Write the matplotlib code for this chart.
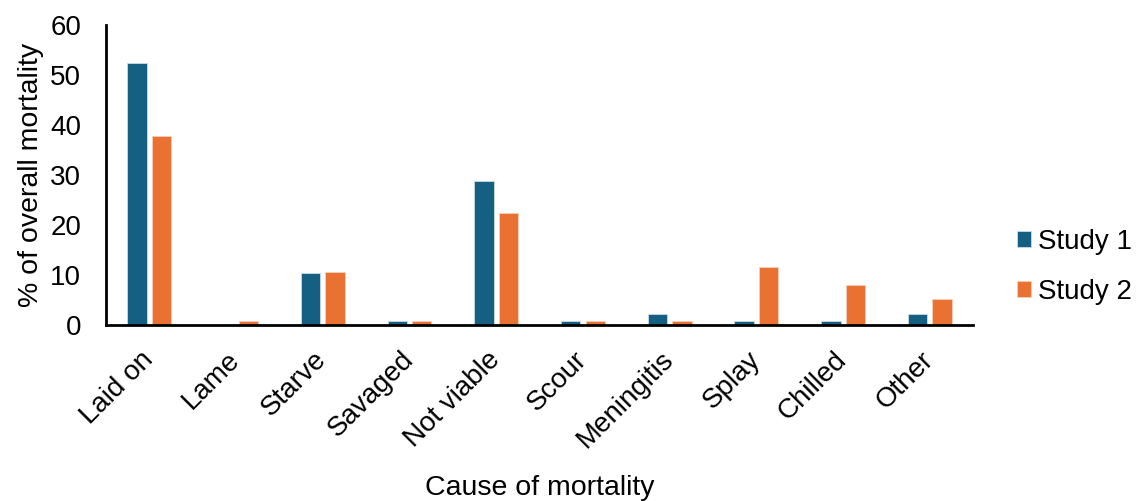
import numpy as np
import matplotlib.pyplot as plt

plt.rcParams['font.family'] = ['Liberation Sans', 'DejaVu Sans']

causes = ['Laid on', 'Lame', 'Starve', 'Savaged', 'Not viable', 'Scour',
          'Meningitis', 'Splay', 'Chilled', 'Other']
study1 = [52.5, 0.0, 10.5, 0.8, 28.9, 0.8, 2.3, 0.8, 0.8, 2.3]
study2 = [37.8, 0.8, 10.7, 0.8, 22.5, 0.8, 0.8, 11.6, 8.0, 5.3]
series_names = ['Study 1', 'Study 2']
colors = ['#156082', '#E97132']

fs = 20
fig = plt.figure(figsize=(11.44, 5.01), dpi=100)
ax = fig.add_axes([0.0927, 0.351, 0.758, 0.599])

x = np.arange(len(causes))
w = 0.223
gap = 0.06
ax.bar(x - (w + gap) / 2, study1, w, color=colors[0], label=series_names[0],
       edgecolor='#c9dbe4', linewidth=0.6)
ax.bar(x + (w + gap) / 2, study2, w, color=colors[1], label=series_names[1],
       edgecolor='#f6cfb9', linewidth=0.6)

ax.set_xlim(-0.5, len(causes) - 0.5)
ax.set_ylim(0, 60)
ax.set_yticks(range(0, 61, 10))
ax.tick_params(axis='both', length=0, labelsize=fs)
ax.tick_params(axis='y', pad=18)
ax.set_xticks(x)
ax.set_xticklabels(causes, rotation=45, ha='right', va='center',
                   rotation_mode='anchor')
ax.tick_params(axis='x', pad=22)

for s in ['top', 'right']:
    ax.spines[s].set_visible(False)
for s in ['left', 'bottom']:
    ax.spines[s].set_linewidth(2)

ax.set_ylabel('% of overall mortality', fontsize=20.5, labelpad=4)
ax.set_xlabel('Cause of mortality', fontsize=20.5, labelpad=16)

fig.legend(loc='center left', bbox_to_anchor=(0.879, 0.467), frameon=False,
           fontsize=fs, handlelength=0.5, handleheight=0.5,
           handletextpad=0.25, labelspacing=0.88, borderaxespad=0)

fig.savefig('out.png', dpi=100)
